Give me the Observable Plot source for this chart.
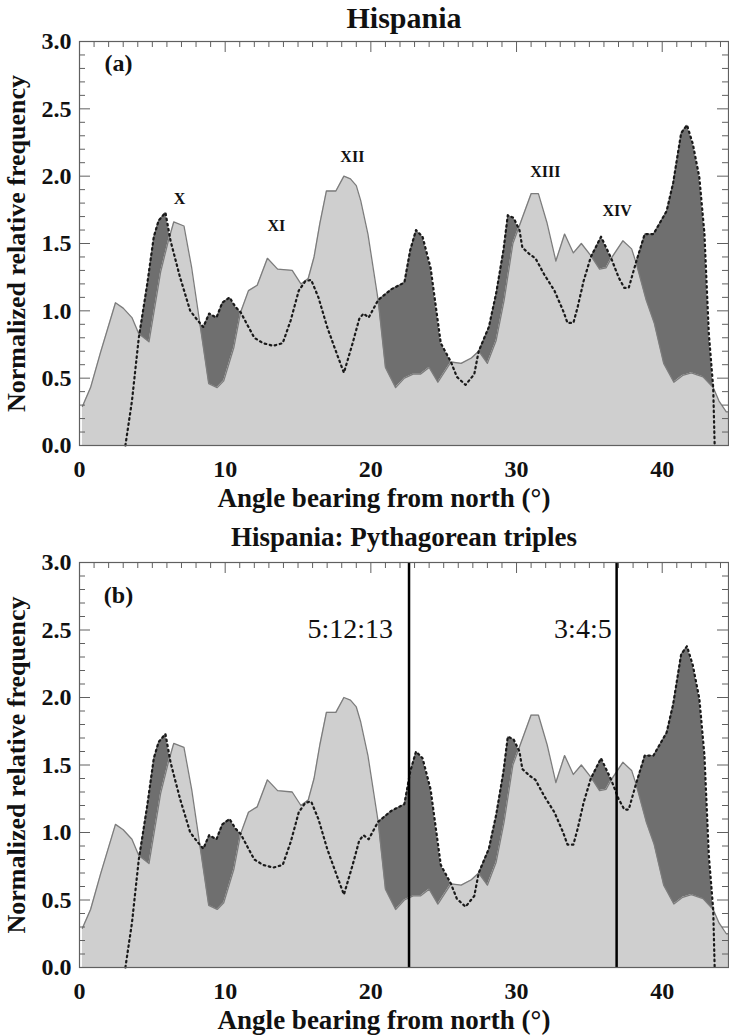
<!DOCTYPE html>
<html><head><meta charset="utf-8">
<script src="https://cdn.jsdelivr.net/npm/d3@7"></script>
<script src="https://cdn.jsdelivr.net/npm/@observablehq/plot@0.6"></script>
<style>
html,body{margin:0;padding:0;background:#fff;}
#chart svg{display:block;}
</style></head><body><div id="chart"></div>
<script>
// ---- data ----
const solidAngle = [0.2,0.76,1.44,2.47,3.0,3.6,4.07,4.77,5.57,6.1,6.47,7.17,7.7,8.87,9.45,9.9,10.6,11.06,11.6,12.2,12.9,13.6,14.6,15.2,15.7,16.1,16.5,16.95,17.6,18.15,18.6,19.0,19.3,19.8,20.5,21.0,21.7,22.3,22.9,23.4,24.0,24.6,25.5,26.2,26.9,27.4,28.0,28.6,29.15,29.75,31.0,31.5,32.1,32.7,33.3,33.9,34.45,35.1,35.7,36.15,36.5,37.3,37.9,38.2,38.9,39.45,40.1,40.8,41.4,42.0,42.8,43.5,43.9,44.4,44.55];
const solidFreq  = [0.29,0.43,0.69,1.06,1.02,0.95,0.83,0.77,1.29,1.52,1.66,1.63,1.32,0.46,0.43,0.48,0.73,0.99,1.15,1.19,1.39,1.31,1.30,1.20,1.24,1.40,1.65,1.89,1.89,2.00,1.98,1.93,1.82,1.57,1.08,0.58,0.43,0.50,0.53,0.53,0.58,0.47,0.62,0.61,0.65,0.70,0.61,0.78,1.08,1.50,1.87,1.87,1.65,1.37,1.57,1.43,1.50,1.41,1.31,1.32,1.39,1.52,1.46,1.36,1.08,0.91,0.61,0.47,0.52,0.54,0.51,0.43,0.33,0.25,0.25];
const dottedAngle = [3.15,3.6,4.07,4.65,5.1,5.43,5.9,6.25,6.9,7.6,8.1,8.5,8.9,9.4,9.8,10.3,10.7,11.06,11.5,12.0,12.6,13.3,13.95,14.5,15.05,15.5,15.9,16.4,17.0,17.6,18.15,18.75,19.2,19.5,19.85,20.5,21.4,22.3,22.7,23.1,23.55,24.1,24.8,25.5,25.9,26.5,27.1,27.4,28.1,28.6,29.1,29.4,29.8,30.2,30.4,30.9,31.3,31.9,32.6,33.2,33.5,33.9,34.2,34.6,35.1,35.8,36.5,37.0,37.4,37.7,38.2,38.8,39.4,40.3,40.75,41.3,41.7,42.1,42.55,42.9,43.0,43.2,43.5,43.6];
const dottedFreq  = [0,0.33,0.80,1.20,1.55,1.67,1.73,1.52,1.25,1.00,0.93,0.88,0.98,0.95,1.06,1.10,1.03,0.99,0.90,0.80,0.76,0.74,0.76,0.93,1.15,1.22,1.23,1.10,0.88,0.70,0.54,0.76,0.94,0.98,0.95,1.08,1.16,1.21,1.45,1.60,1.55,1.32,0.76,0.62,0.51,0.45,0.53,0.70,0.88,1.13,1.45,1.71,1.69,1.60,1.47,1.42,1.39,1.27,1.15,1.00,0.91,0.91,1.03,1.22,1.40,1.55,1.39,1.25,1.17,1.17,1.36,1.57,1.57,1.74,1.95,2.32,2.38,2.24,1.99,1.57,1.32,0.83,0.43,0];
const xTicks = [0, 10, 20, 30, 40];
const yTicks = [0.0, 0.5, 1.0, 1.5, 2.0, 2.5, 3.0];
const peakNames = ["X", "XI", "XII", "XIII", "XIV"];
const peakAngle = [6.86, 13.52, 18.73, 31.97, 36.91];
const peakFreq  = [1.83, 1.63, 2.14, 2.03, 1.74];
const tripleNames = ["5:12:13", "3:4:5"];
const tripleAngle = [22.62, 36.87];
const tripleLabelAngle = [21.52, 36.53];
const tripleLabelFreq = [2.51, 2.51];

// ---- derived tables ----
const solid = solidAngle.map((a, i) => ({angle: a, freq: solidFreq[i]}));
const dotted = dottedAngle.map((a, i) => ({angle: a, freq: dottedFreq[i]}));
function lerp(xs, ys, x) {
  if (x <= xs[0]) return ys[0];
  if (x >= xs[xs.length - 1]) return ys[ys.length - 1];
  const i = d3.bisectRight(xs, x) - 1;
  const t = (x - xs[i]) / (xs[i + 1] - xs[i]);
  return ys[i] + t * (ys[i + 1] - ys[i]);
}
const grid = Array.from(new Set([...solidAngle, ...dottedAngle]))
  .filter(x => x >= dottedAngle[0] && x <= dottedAngle[dottedAngle.length - 1])
  .sort((a, b) => a - b);
const band = [];
grid.forEach((x, k) => {
  const a = lerp(solidAngle, solidFreq, x), b = lerp(dottedAngle, dottedFreq, x);
  if (k > 0) {
    const x0 = grid[k - 1];
    const a0 = lerp(solidAngle, solidFreq, x0), b0 = lerp(dottedAngle, dottedFreq, x0);
    const d0 = b0 - a0, d1 = b - a;
    if (d0 * d1 < 0) {
      const t = d0 / (d0 - d1);
      const yc = a0 + t * (a - a0);
      band.push({angle: x0 + t * (x - x0), lo: yc, hi: yc});
    }
  }
  band.push({angle: x, lo: a, hi: Math.max(a, b)});
});
const peaks = peakNames.map((n, i) => ({name: n, angle: peakAngle[i], freq: peakFreq[i]}));
const triples = tripleNames.map((n, i) => ({name: n, angle: tripleAngle[i], lx: tripleLabelAngle[i], ly: tripleLabelFreq[i]}));

const W = 729, ML = 79, MR = 1;
const PW = W - ML - MR;
const yMajor = yTicks;
const yMinor = d3.range(1, 30).filter(i => i % 5 !== 0).map(i => i / 10);
const xMinor = d3.range(1, 45).filter(i => i % 10 !== 0);
const xMajor = [10, 20, 30, 40];
const FONT = "'Liberation Serif', 'Times New Roman', Times, serif";
const AX = "#606060";
const LIGHT = "#cfcfcf", DARK = "#6f6f6f";

function panel({height, marginTop, marginBottom, title, titleSize, titleDy, tag, tagDy, withTriples, withPeaks}) {
  const PH = height - marginTop - marginBottom;
  const marks = [
    Plot.tickX(xMinor, {x: d => d, insetTop: PH - 6, stroke: AX}),
    Plot.tickX(xMajor, {x: d => d, insetTop: PH - 11, stroke: AX}),
    Plot.areaY(solid, {x: "angle", y: "freq", fill: LIGHT}),
    Plot.areaY(band, {x: "angle", y1: "lo", y2: "hi", fill: DARK}),
    Plot.line(solid, {x: "angle", y: "freq", stroke: "#7c7c7c", strokeWidth: 1.3}),
    Plot.line(dotted, {x: "angle", y: "freq", stroke: "#1a1a1a", strokeWidth: 2.2, strokeDasharray: "1.6,3.6"}),
  ];
  if (withTriples) {
    marks.push(Plot.ruleX(triples, {x: "angle", stroke: "#000", strokeWidth: 2.5}));
    marks.push(Plot.text(triples, {x: "lx", y: "ly", text: "name", textAnchor: "end", lineAnchor: "middle", fontSize: 28, fontWeight: "normal", fill: "#111"}));
  }
  if (withPeaks) {
    marks.push(Plot.text(peaks, {x: "angle", y: "freq", text: "name", lineAnchor: "middle", fontSize: 16, fontWeight: "bold", fill: "#111"}));
  }
  marks.push(
    Plot.frame({stroke: AX, strokeWidth: 1.2}),
    // left / right ticks
    Plot.tickY(yMinor, {y: d => d, insetRight: PW - 6, stroke: AX}),
    Plot.tickY(yMajor, {y: d => d, insetRight: PW - 11, stroke: AX}),
    Plot.tickY(yMinor, {y: d => d, insetLeft: PW - 6, stroke: AX}),
    Plot.tickY(yMajor, {y: d => d, insetLeft: PW - 11, stroke: AX}),
    // top ticks
    Plot.tickX(xMinor, {x: d => d, insetBottom: PH - 6, stroke: AX}),
    Plot.tickX(xMajor, {x: d => d, insetBottom: PH - 11, stroke: AX}),
    Plot.axisY({ticks: yTicks, tickFormat: d => d.toFixed(1), tickSize: 0, tickPadding: 8, fontSize: 24, fontWeight: "bold", label: null, fill: "#111"}),
    Plot.axisX({ticks: xTicks, tickFormat: d => String(d), tickSize: 0, tickPadding: 14, fontSize: 24, fontWeight: "bold", label: null, fill: "#111"}),
    Plot.text(["Normalized relative frequency"], {frameAnchor: "left", dx: -55, rotate: -90, textAnchor: "middle", lineAnchor: "bottom", fontSize: 26, fontWeight: "bold", fill: "#111"}),
    Plot.text(["Angle bearing from north (°)"], {frameAnchor: "bottom", dx: -20, dy: 61, lineAnchor: "bottom", fontSize: 27, fontWeight: "bold", fill: "#111"}),
    Plot.text([title], {frameAnchor: "top", dy: titleDy, lineAnchor: "bottom", fontSize: titleSize, fontWeight: "bold", fill: "#111"}),
    Plot.text([tag], {frameAnchor: "top-left", dx: 39, dy: tagDy, textAnchor: "middle", lineAnchor: "middle", fontSize: 24, fontWeight: "bold", fill: "#111"})
  );
  return Plot.plot({
    width: W, height, marginLeft: ML, marginRight: MR, marginTop, marginBottom,
    x: {domain: [0, 44.55]},
    y: {domain: [0, 3]},
    style: {fontFamily: FONT, background: "#fff", overflow: "visible"},
    marks
  });
}

const chart = document.getElementById("chart");
chart.appendChild(panel({height: 515, marginTop: 41, marginBottom: 70, title: "Hispania", titleSize: 30, titleDy: -14, tag: "(a)", tagDy: 22, withPeaks: true}));
chart.appendChild(panel({height: 521, marginTop: 47, marginBottom: 69, title: "Hispania: Pythagorean triples", titleSize: 27, titleDy: -17, tag: "(b)", tagDy: 33, withTriples: true}));
</script></body></html>
